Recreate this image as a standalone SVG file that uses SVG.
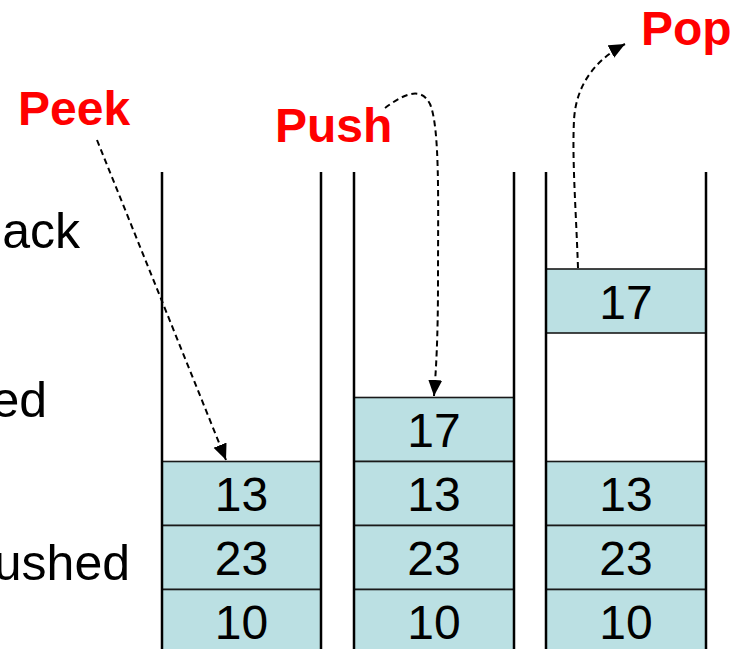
<svg xmlns="http://www.w3.org/2000/svg" width="749" height="649" viewBox="0 0 749 649">
  <style>
    .wall { stroke: #000; stroke-width: 2.5; fill: none; }
    .cell { fill: #BBE0E3; stroke: #1a1a1a; stroke-width: 1.6; }
    .num { font-family: "Liberation Sans", Arial, sans-serif; font-size: 48px; fill: #000; text-anchor: middle; }
    .side { font-family: "Liberation Sans", Arial, sans-serif; font-size: 50px; fill: #000; text-anchor: end; }
    .op { font-family: "Liberation Sans", Arial, sans-serif; font-size: 48px; font-weight: bold; fill: #FF0000; }
    .link { stroke: #000; stroke-width: 2; fill: none; stroke-dasharray: 6 4; marker-end: url(#head); }
  </style>
  <defs>
    <marker id="head" markerUnits="userSpaceOnUse" markerWidth="18" markerHeight="16" refX="16" refY="7" orient="auto">
      <path d="M0,0 L16,7 L0,14 Z" fill="#000"/>
    </marker>
  </defs>

  <rect width="749" height="649" fill="#fff"/>

  <!-- side captions -->
  <g id="captions">
    <text class="side" x="80" y="248">ack</text>
    <text class="side" x="47" y="417">ed</text>
    <text class="side" x="130" y="580">ushed</text>
  </g>

  <!-- stack 1: peek -->
  <g id="stack-peek">
    <rect class="cell" x="162" y="461.5" width="159" height="64"/>
    <rect class="cell" x="162" y="525.5" width="159" height="64"/>
    <rect class="cell" x="162" y="589.5" width="159" height="64"/>
    <text class="num" x="241.5" y="511">13</text>
    <text class="num" x="241.5" y="575">23</text>
    <text class="num" x="241.5" y="639">10</text>
    <path class="wall" d="M162,172 V649 M321,172 V649"/>
  </g>

  <!-- stack 2: push -->
  <g id="stack-push">
    <rect class="cell" x="354" y="397.5" width="160" height="64"/>
    <rect class="cell" x="354" y="461.5" width="160" height="64"/>
    <rect class="cell" x="354" y="525.5" width="160" height="64"/>
    <rect class="cell" x="354" y="589.5" width="160" height="64"/>
    <text class="num" x="434" y="447">17</text>
    <text class="num" x="434" y="511">13</text>
    <text class="num" x="434" y="575">23</text>
    <text class="num" x="434" y="639">10</text>
    <path class="wall" d="M354,172 V649 M514,172 V649"/>
  </g>

  <!-- stack 3: pop -->
  <g id="stack-pop">
    <rect class="cell" x="546" y="269" width="160" height="64"/>
    <rect class="cell" x="546" y="461.5" width="160" height="64"/>
    <rect class="cell" x="546" y="525.5" width="160" height="64"/>
    <rect class="cell" x="546" y="589.5" width="160" height="64"/>
    <text class="num" x="626" y="318.5">17</text>
    <text class="num" x="626" y="511">13</text>
    <text class="num" x="626" y="575">23</text>
    <text class="num" x="626" y="639">10</text>
    <path class="wall" d="M546,172 V649 M706,172 V649"/>
  </g>

  <!-- operation labels -->
  <g id="label-peek"><text class="op" x="18" y="125">Peek</text></g>
  <g id="label-push"><text class="op" x="275" y="142">Push</text></g>
  <g id="label-pop"><text class="op" x="641" y="45">Pop</text></g>

  <!-- connectors -->
  <g id="connectors">
    <path class="link" d="M97,140 L226,460"/>
    <path class="link" d="M385,108 C400,97 420,84 430,104 C440,128 438,200 438,280 C438,340 436,370 434,396"/>
    <path class="link" d="M578,268 C576,210 572,160 574,120 C576,85 595,60 625,44"/>
  </g>
</svg>
